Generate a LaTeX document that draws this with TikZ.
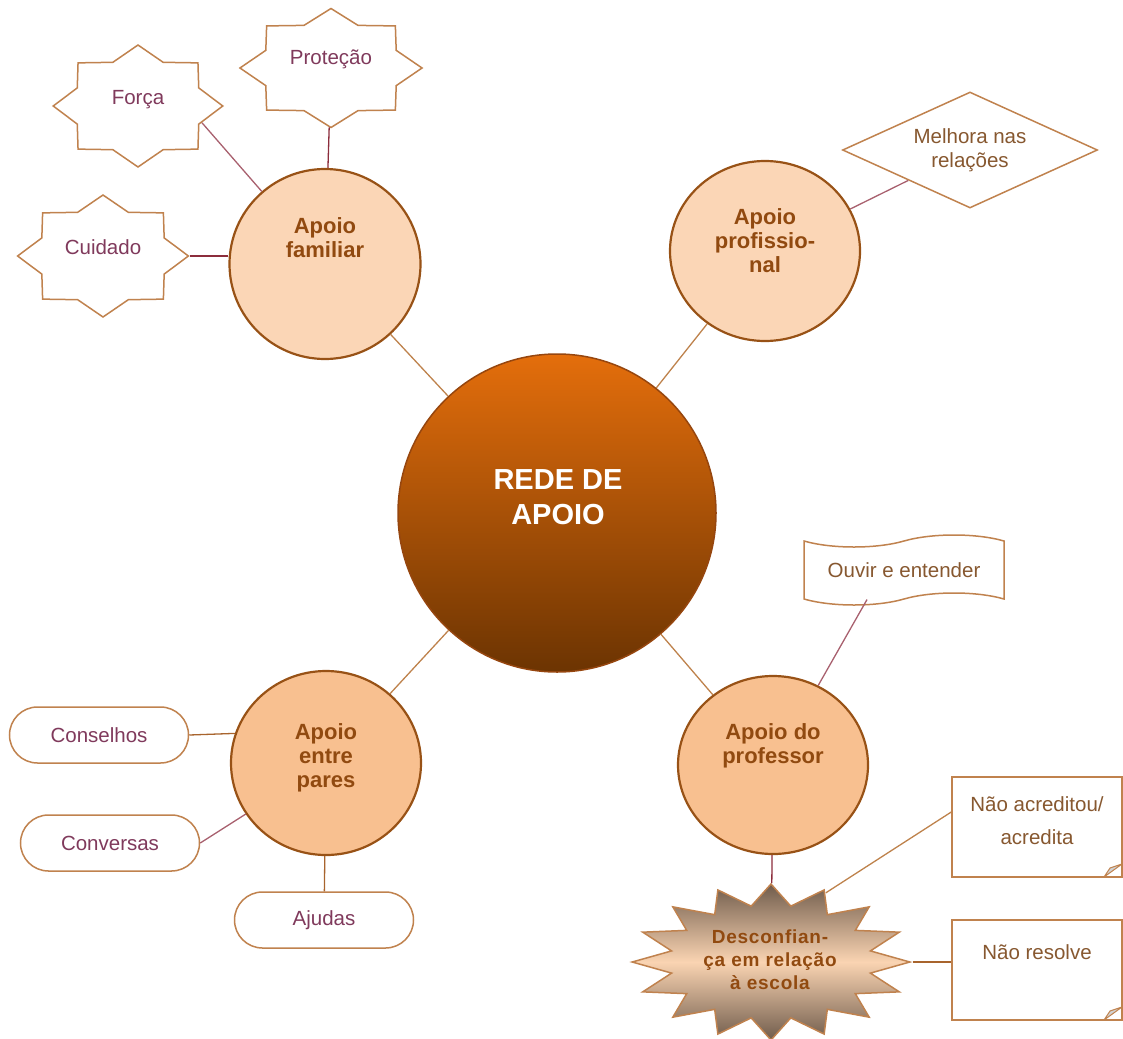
\documentclass[tikz,border=0pt]{standalone}
\usepackage{fontspec}
\setmainfont{Liberation Sans}
\usetikzlibrary{shapes.geometric,shapes.symbols,shapes.misc}

\definecolor{lblline}{RGB}{192,130,78}
\definecolor{circline}{RGB}{152,82,22}
\definecolor{circtext}{RGB}{145,74,16}
\definecolor{txtA}{RGB}{128,58,92}
\definecolor{txtB}{RGB}{135,88,48}
\definecolor{cMauve}{RGB}{168,96,110}
\definecolor{cTan}{RGB}{190,130,76}
\definecolor{cBrown}{RGB}{168,100,45}
\definecolor{cMaroon}{RGB}{140,45,60}
\definecolor{famfill}{RGB}{251,214,182}
\definecolor{parfill}{RGB}{248,192,144}
\definecolor{redeline}{RGB}{150,70,15}
\definecolor{redetop}{RGB}{228,110,12}
\definecolor{redebot}{RGB}{108,52,2}
\definecolor{descdark}{RGB}{112,92,76}
\definecolor{desclight}{RGB}{250,212,178}

\begin{document}
\begin{tikzpicture}[x=1pt,y=-1pt,
  circ/.style={ellipse, draw=circline, line width=2.2pt, inner sep=0pt},
  circtxt/.style={font=\fontsize{22}{24}\selectfont\bfseries, text=circtext, align=center, inner sep=0pt},
  lbltxt/.style={font=\fontsize{20.5}{24}\selectfont, text=txtA, align=center, inner sep=0pt},
  lblbox/.style={draw=lblline, line width=1.5pt, fill=white, inner sep=0pt},
  starbox/.style={lblbox, star, star points=8, star point ratio=1.29},
  pill/.style={lblbox, lbltxt, rounded corners=28pt, minimum width=179, minimum height=56},
  notebox/.style={lblbox, chamfered rectangle, chamfered rectangle corners=south east,
    chamfered rectangle xsep=18pt, chamfered rectangle ysep=13pt, minimum width=170, minimum height=100,
    path picture={\filldraw[fill=gray!35, draw=lblline, line width=1pt]
      ([xshift=-18pt]path picture bounding box.south east) -- ([xshift=-12pt,yshift=9pt]path picture bounding box.south east)
      -- ([yshift=13pt]path picture bounding box.south east) -- cycle;}},
  lnk/.style={line width=1.3pt}]
  \useasboundingbox (0,0) rectangle (1123,1038);

  % centre
  \node[circle, draw=redeline, line width=1.5pt, top color=redetop, bottom color=redebot, minimum size=318, inner sep=0pt] (rede) at (557,513) {};
  \node[circtxt, text=white, font=\fontsize{29}{35}\selectfont\bfseries] (redetxt) at (558,497) {REDE DE\\APOIO};

  % apoios
  \node[circ, fill=famfill, minimum width=191, minimum height=190] (fam) at (325,264) {};
  \node[circtxt] (famtxt) at (325,238) {Apoio\\familiar};
  \node[circ, fill=famfill, minimum width=190, minimum height=180] (prof) at (765,251) {};
  \node[circtxt] (proftxt) at (765,241) {Apoio\\profissio-\\nal};
  \node[circ, fill=parfill, minimum width=190, minimum height=184] (pares) at (326,763) {};
  \node[circtxt] (parestxt) at (326,758) {Apoio\\entre\\pares};
  \node[circ, fill=parfill, minimum width=190, minimum height=178] (profr) at (773,765) {};
  \node[circtxt] (profrtxt) at (773,746) {Apoio do\\professor};

  % familiar
  \node[starbox, minimum size=119, xscale=1.53] (protecao) at (331,68) {};
  \node[lbltxt] (protecaotxt) at (331,59) {Proteção};
  \node[starbox, minimum size=122, xscale=1.39] (forca) at (138,106) {};
  \node[lbltxt] (forcatxt) at (138,100) {Força};
  \node[starbox, minimum size=122, xscale=1.40] (cuidado) at (103,256) {};
  \node[lbltxt] (cuidadotxt) at (103,247) {Cuidado};

  % profissional
  \node[lblbox, lbltxt, text=txtB, diamond, shape aspect=2.2, minimum width=255, minimum height=116] (melhora) at (970,150) {Melhora nas\\relações};

  % pares
  \node[pill] (conselhos) at (99,735) {Conselhos};
  \node[pill] (conversas) at (110,843) {Conversas};
  \node[pill] (ajudas) at (324,920) {Ajudas};

  % professor
  \node[lblbox, lbltxt, text=txtB, tape, tape bend height=12pt, minimum width=200, minimum height=70] (ouvir) at (904,570) {Ouvir e entender};
  \node[star, star points=16, star point ratio=1.37, draw=lblline, line width=1.5pt, top color=descdark, bottom color=descdark, middle color=desclight, minimum size=156, inner sep=0pt, xscale=1.78] (desc) at (771,962) {};
  \node[circtxt, font=\fontsize{19}{23}\selectfont\bfseries\addfontfeature{LetterSpace=4}] (desctxt) at (770,960) {Desconfian-\\ça em relação\\à escola};
  \node[notebox] (nao1) at (1037,827) {};
  \node[lbltxt, text=txtB, font=\fontsize{20.5}{33}\selectfont] (nao1txt) at (1037,821) {Não acreditou/\\acredita};
  \node[notebox] (nao2) at (1037,970) {};
  \node[lbltxt, text=txtB] (nao2txt) at (1037,952) {Não resolve};

  \draw[lnk, cMaroon] (protecao) -- (fam);
  \draw[lnk, cMauve] (forca.-20) -- (fam);
  \draw[lnk, cMaroon] (cuidado.0) -- (cuidado.0 -| fam.west);
  \draw[lnk, cTan] (fam) -- (rede);
  \draw[lnk, cTan] (prof) -- (rede);
  \draw[lnk, cMauve] (melhora) -- (prof);
  \draw[lnk, cTan] (pares) -- (rede);
  \draw[lnk, cTan] (profr) -- (rede);
  \draw[lnk, cMauve] ([xshift=-37pt]ouvir.south) -- (profr);
  \draw[lnk, cBrown] (conselhos.east) -- (pares.162);
  \draw[lnk, cMauve] (conversas.east) -- (pares);
  \draw[lnk, cBrown] (ajudas) -- (pares);
  \draw[lnk, cMaroon] (profr) -- (desc);
  \draw[lnk, cTan] (desc.66) -- ([yshift=15pt]nao1.west);
  \draw[lnk, cBrown] (desc.0) -- (desc.0 -| nao2.west);
\end{tikzpicture}
\end{document}
